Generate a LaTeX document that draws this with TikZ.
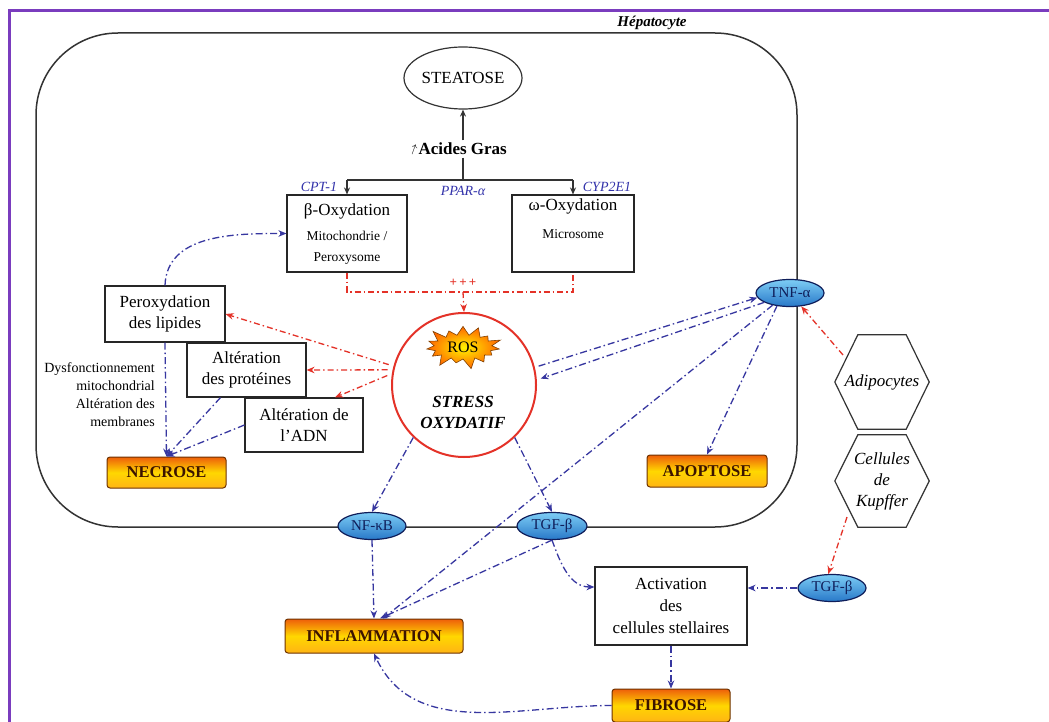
\documentclass[tikz,border=0pt]{standalone}
\usepackage{fontspec}
\setmainfont{Liberation Serif}
\usetikzlibrary{shapes.geometric,shapes.symbols,arrows.meta,calc}

\definecolor{framepurple}{RGB}{122,60,190}
\definecolor{navyline}{RGB}{55,55,160}
\definecolor{redline}{RGB}{228,50,40}
\definecolor{labelblue}{RGB}{50,50,170}
\definecolor{boxtop}{RGB}{238,95,10}
\definecolor{boxmid}{RGB}{255,215,0}
\definecolor{boxbot}{RGB}{255,180,20}
\definecolor{boxedge}{RGB}{110,50,0}
\definecolor{ovtop}{RGB}{125,205,245}
\definecolor{ovbot}{RGB}{40,120,200}
\definecolor{ovborder}{RGB}{15,30,90}

% font helpers
\newcommand\boxfont{\fontsize{17pt}{21pt}\selectfont}
\newcommand\smalltxt{\fontsize{13.5pt}{17pt}\selectfont}

% outline of a hexagon around a square node
\newcommand\hexoutline[1]{%
  \draw[hexline] (#1.west) -- ([xshift=23pt]#1.north west) -- ([xshift=-23pt]#1.north east)
    -- (#1.east) -- ([xshift=-23pt]#1.south east) -- ([xshift=23pt]#1.south west) -- cycle;}

\begin{document}
\begin{tikzpicture}[x=1pt,y=-1pt,
  box/.style={draw=black!85,line width=1.1pt,fill=white,align=center,inner sep=2pt,font=\boxfont},
  outcome/.style={draw=boxedge,line width=1pt,rounded corners=3pt,
    top color=boxtop,bottom color=boxbot,middle color=boxmid,
    font=\bfseries\fontsize{16.5pt}{18pt}\selectfont,text={rgb,255:red,60;green,20;blue,0},inner sep=0pt},
  mediator/.style={ellipse,draw=ovborder,line width=1.2pt,top color=ovtop,bottom color=ovbot,
    minimum width=68pt,minimum height=27pt,inner sep=0pt,
    font=\fontsize{15pt}{16pt}\selectfont,text=ovborder},
  hexcell/.style={minimum width=94pt,minimum height=94pt,inner sep=0pt,align=center,
    font=\itshape\fontsize{17pt}{21pt}\selectfont},
  hexline/.style={draw=black!80,line width=1.2pt},
  lab/.style={text=labelblue,font=\itshape\fontsize{14pt}{16pt}\selectfont},
  plain/.style={draw=black!80,line width=1.2pt},
  plainarr/.style={plain,-{Stealth[length=7pt,width=6pt]}},
  bluearr/.style={draw=navyline,line width=1.3pt,dash pattern=on 7pt off 3pt on 1.5pt off 3pt,
    -{Stealth[length=8pt,width=6.5pt]}},
  reddash/.style={draw=redline,line width=1.3pt,dash pattern=on 6pt off 3pt on 1.5pt off 3pt},
  redarr/.style={reddash,-{Stealth[length=8pt,width=6.5pt]}}
]
\useasboundingbox (0,0) rectangle (1049,722);
\clip (0,0) rectangle (1049,722);
\fill[white] (0,0) rectangle (1049,722);

% page frame
\draw[framepurple,line width=2.6pt] (9.5,760) -- (9.5,10.5) -- (1080,10.5);

% hepatocyte membrane
\draw[draw=black!80,line width=1.5pt,rounded corners=82pt] (36,33) rectangle (797,527);
\node[font=\bfseries\itshape\fontsize{15pt}{16pt}\selectfont] (hepato) at (652,23) {Hépatocyte};

% lipid pathway
\node[ellipse,draw=black!80,line width=1.2pt,minimum width=118pt,minimum height=62pt,inner sep=0pt,
  font=\fontsize{17pt}{18pt}\selectfont] (steatose) at (463,78) {STEATOSE};
\node[font=\bfseries\fontsize{17pt}{18pt}\selectfont,inner sep=2pt] (acides) at (458,149)
  {\raisebox{3pt}{\fontsize{13pt}{13pt}\selectfont\rotatebox{-20}{$\uparrow$}}Acides Gras};
\draw[plainarr] (steatose.south |- acides.north) -- (steatose.south);

\node[box,minimum width=120pt,minimum height=77pt] (beta) at (347,233.5)
  {β-Oxydation\\[4pt]\smalltxt Mitochondrie /\\\smalltxt Peroxysome};
\node[box,minimum width=122pt,minimum height=77pt] (omega) at (573,233.5)
  {ω-Oxydation\\[7pt]\smalltxt Microsome\\[8pt]};

\coordinate (fork) at (463,180);
\coordinate (forkL) at (347,180);
\coordinate (forkR) at (573,180);
\draw[plain] (fork |- acides.south) -- (fork);
\draw[plain] (forkL) -- (forkR);
\draw[plainarr] (forkL) -- (beta.north);
\draw[plainarr] (forkR) -- (omega.north);
\node[lab] (cpt) at (319,187) {CPT-1};
\node[lab] (ppar) at (463,191) {PPAR-α};
\node[lab] (cyp) at (607,187) {CYP2E1};

% oxidative stress
\node[circle,draw=redline,line width=2pt,minimum size=144pt,inner sep=0pt] (circ) at (464,385) {};
\node[starburst,starburst points=15,starburst point height=12pt,minimum width=82pt,minimum height=48pt,
  inner color=yellow!90!orange,outer color=orange!80!red,draw=orange!50!black,line width=0.6pt,
  inner sep=0pt,font=\fontsize{16pt}{16pt}\selectfont] (ros) at (463,347) {ROS};
\node[align=center,font=\bfseries\itshape\fontsize{17pt}{21pt}\selectfont] (stress) at (463,412)
  {STRESS\\OXYDATIF};

\coordinate (rL) at (347,292);
\coordinate (rR) at (573,292);
\coordinate (rM) at (463,292);
\draw[reddash] (beta.south) -- (rL) -- (rR) -- (omega.south);
\node[text=redline,font=\bfseries\fontsize{13pt}{13pt}\selectfont] (plus) at (463,283) {+\,+\,+};
\draw[redarr] (rM) -- (circ.north);

% cellular damage
\node[box,minimum width=120pt,minimum height=56pt] (perox) at (165,314) {Peroxydation\\des lipides};
\node[box,minimum width=119pt,minimum height=54pt] (prot) at (246.5,370) {Altération\\des protéines};
\node[box,minimum width=118pt,minimum height=54pt] (adn) at (304,425) {Altération de\\l'ADN};
\node[align=right,anchor=east,inner sep=0pt,font=\fontsize{14pt}{18pt}\selectfont] (dysf) at (155,395)
  {Dysfonctionnement\\mitochondrial\\Altération des\\membranes};

\node[outcome,minimum width=119pt,minimum height=31pt] (necrose) at (166.5,472.5) {NECROSE};
\node[outcome,minimum width=120pt,minimum height=32pt] (apoptose) at (707,471) {APOPTOSE};
\node[outcome,minimum width=178pt,minimum height=34pt] (inflam) at (374,636) {INFLAMMATION};
\node[outcome,minimum width=118pt,minimum height=33pt] (fibrose) at (671,705.5) {FIBROSE};

\node[box,minimum width=152pt,minimum height=78pt,font=\fontsize{17pt}{22pt}\selectfont] (activ) at (671,606)
  {Activation\\des\\cellules stellaires};

% mediators
\node[mediator] (tnf) at (790,293) {TNF-α};
\node[mediator] (nfkb) at (372,526) {NF-κB};
\node[mediator,minimum width=70pt] (tgfL) at (552,526) {TGF-β};
\node[mediator] (tgfR) at (832,588) {TGF-β};

% extra-hepatic cells
\node[hexcell] (adipo) at (882,382) {Adipocytes};
\hexoutline{adipo}
\node[hexcell,minimum height=92pt] (kupffer) at (882,481) {Cellules\\de\\Kupffer};
\hexoutline{kupffer}

% red connectors
\draw[redarr,shorten <=5pt] (circ.165) -- (perox.east);
\draw[redarr,shorten <=5pt] (circ.168) -- (prot.east);
\draw[redarr,shorten <=5pt] (circ.171) -- ([xshift=31pt]adn.north);
\draw[redarr] ([shift={(-39,-27)}]adipo.center) -- (tnf.-50);
\draw[redarr] ([shift={(-35,36)}]kupffer.center) -- (tgfR.105);

% blue connectors
\draw[bluearr] (perox.north) to[out=88,in=180] (beta.west);
\draw[bluearr] (perox.south) -- (necrose.north);
\draw[bluearr] ([xshift=-26pt]prot.south) -- (necrose.north);
\draw[bluearr] (adn.west) -- (necrose.north);
\draw[bluearr] (circ.-134) -- (nfkb.north);
\draw[bluearr] (circ.-46) -- (tgfL.north);
\draw[bluearr] (nfkb.south) -- (inflam.north);
\draw[bluearr] (tgfL.south) -- ([xshift=6pt]inflam.north);
\draw[bluearr] (tnf.215) -- ([xshift=9pt]inflam.north);
\draw[bluearr] (tgfL.south) to[out=-70,in=180] ([yshift=19pt]activ.west);
\draw[bluearr] (tgfR.west) -- (tgfR.west -| activ.east);
\draw[bluearr] (activ.south) -- (fibrose.north);
\draw[bluearr] (fibrose.west) to[out=180,in=-65] (inflam.south);
\draw[bluearr,shorten <=4pt] (circ.14) -- (tnf.188);
\draw[bluearr,shorten >=4pt] (tnf.200) -- (circ.4);
\draw[bluearr] (tnf.225) -- (apoptose.north);
\end{tikzpicture}
\end{document}
